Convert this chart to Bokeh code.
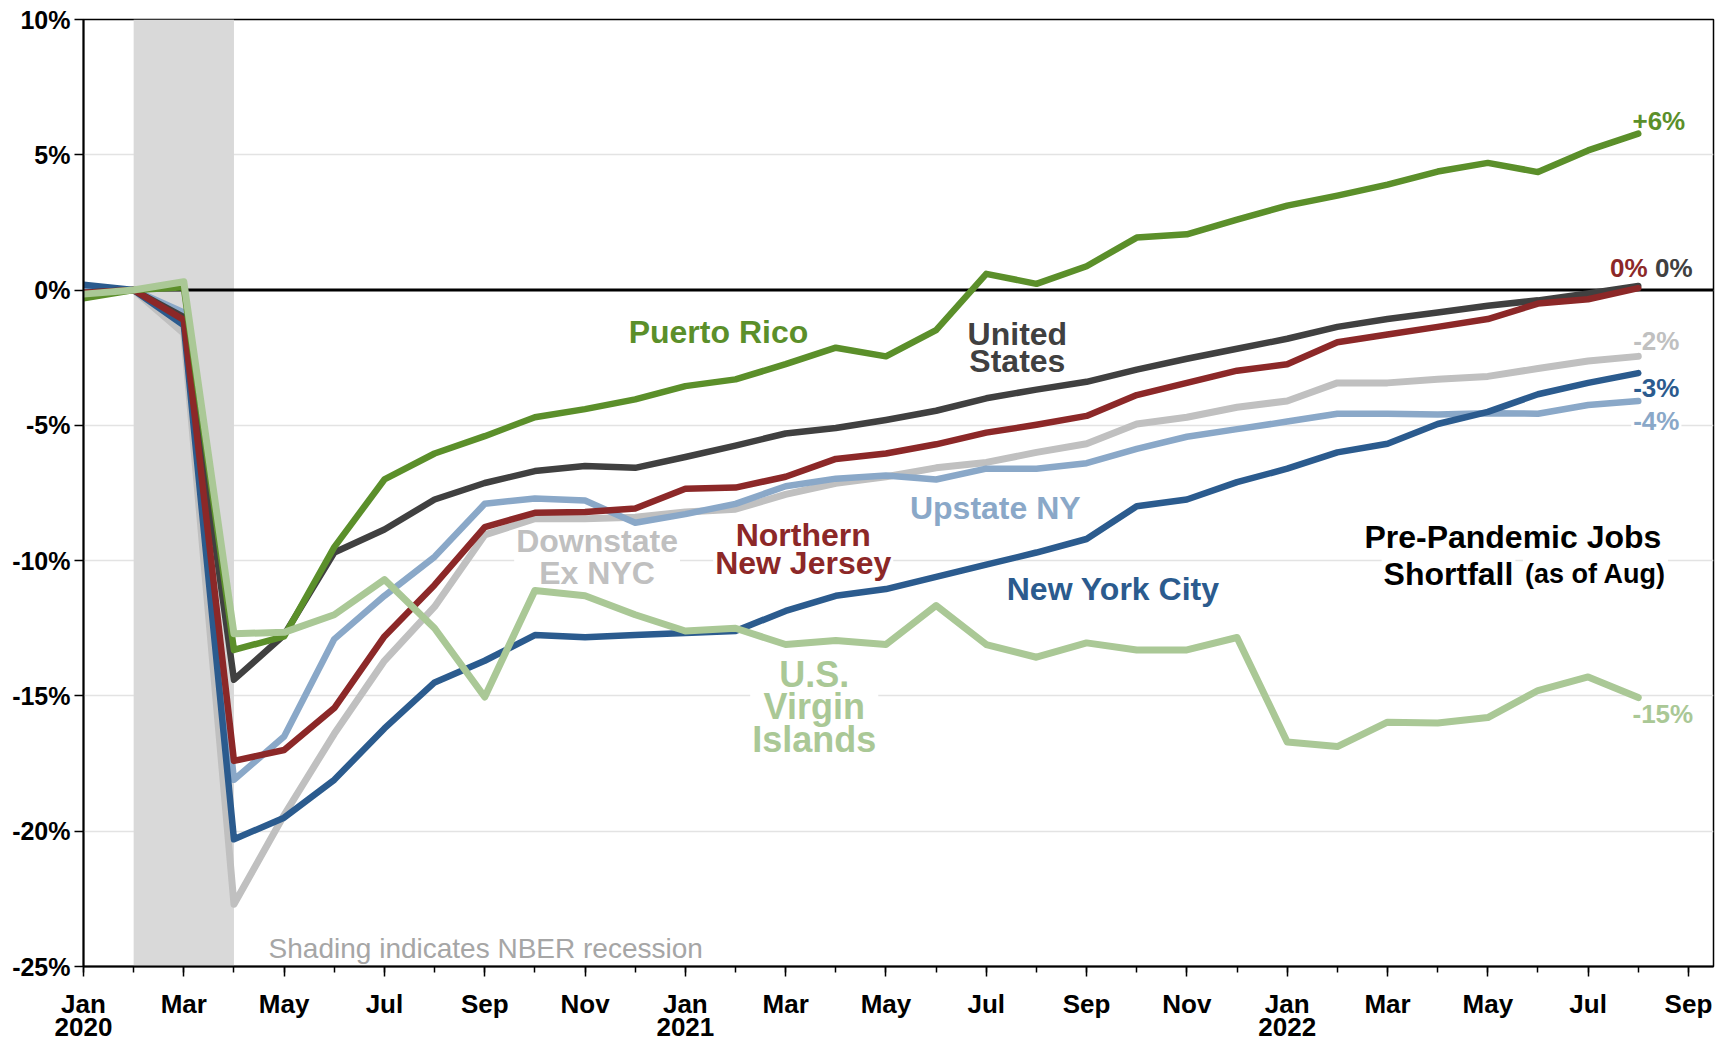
from bokeh.plotting import figure
from bokeh.models import Range1d, FixedTicker, Span, BoxAnnotation, Label, LinearAxis
from bokeh.embed import file_html
from bokeh.resources import INLINE

# ---------------- data (percent change in jobs vs. Feb 2020) ----------------
months = [
    "Jan 2020", "Feb 2020", "Mar 2020", "Apr 2020", "May 2020", "Jun 2020",
    "Jul 2020", "Aug 2020", "Sep 2020", "Oct 2020", "Nov 2020", "Dec 2020",
    "Jan 2021", "Feb 2021", "Mar 2021", "Apr 2021", "May 2021", "Jun 2021",
    "Jul 2021", "Aug 2021", "Sep 2021", "Oct 2021", "Nov 2021", "Dec 2021",
    "Jan 2022", "Feb 2022", "Mar 2022", "Apr 2022", "May 2022", "Jun 2022",
    "Jul 2022", "Aug 2022",
]

puerto_rico = [-0.3, 0.0, 0.1, -13.3, -12.8, -9.5, -7.0, -6.04, -5.4, -4.7, -4.4, -4.04,
               -3.55, -3.3, -2.74, -2.13, -2.45, -1.48, 0.6, 0.23, 0.88, 1.94, 2.06, 2.6,
               3.12, 3.49, 3.9, 4.38, 4.7, 4.36, 5.16, 5.78]
united_states = [-0.1, 0.0, -1.0, -14.4, -12.75, -9.7, -8.85, -7.74, -7.13, -6.69, -6.5, -6.57,
                 -6.17, -5.75, -5.3, -5.1, -4.8, -4.46, -4.0, -3.68, -3.39, -2.94, -2.54, -2.17,
                 -1.8, -1.36, -1.07, -0.83, -0.58, -0.38, -0.13, 0.15]
northern_nj = [-0.1, 0.0, -1.1, -17.4, -17.0, -15.45, -12.8, -10.9, -8.76, -8.23, -8.2, -8.07,
               -7.34, -7.3, -6.9, -6.24, -6.04, -5.7, -5.27, -4.98, -4.65, -3.88, -3.43, -2.98,
               -2.74, -1.93, -1.64, -1.36, -1.07, -0.5, -0.34, 0.07]
upstate_ny = [0.0, 0.0, -0.83, -18.1, -16.5, -12.9, -11.3, -9.86, -7.9, -7.7, -7.78, -8.6,
              -8.28, -7.9, -7.25, -6.97, -6.85, -7.0, -6.6, -6.6, -6.4, -5.87, -5.42, -5.14,
              -4.86, -4.57, -4.57, -4.6, -4.55, -4.57, -4.25, -4.1]
downstate_ex_nyc = [-0.1, 0.0, -1.6, -22.7, -19.4, -16.4, -13.7, -11.7, -9.05, -8.45, -8.45, -8.4,
                    -8.2, -8.1, -7.55, -7.14, -6.9, -6.57, -6.37, -6.0, -5.68, -4.95, -4.7, -4.33,
                    -4.1, -3.43, -3.43, -3.3, -3.19, -2.9, -2.62, -2.45]
new_york_city = [0.2, 0.0, -1.3, -20.3, -19.5, -18.1, -16.2, -14.5, -13.7, -12.75, -12.83, -12.75,
                 -12.67, -12.6, -11.86, -11.3, -11.05, -10.6, -10.15, -9.7, -9.2, -7.99, -7.74, -7.1,
                 -6.6, -6.0, -5.68, -4.95, -4.5, -3.85, -3.43, -3.07]
us_virgin_islands = [-0.15, 0.0, 0.31, -12.7, -12.65, -12.0, -10.7, -12.5, -15.04, -11.1, -11.3, -12.0,
                     -12.6, -12.5, -13.1, -12.95, -13.1, -11.66, -13.1, -13.57, -13.04, -13.3, -13.3, -12.84,
                     -16.7, -16.87, -15.97, -16.0, -15.8, -14.8, -14.3, -15.06]

end_labels = ["+6%", "0%", "0%", "-2%", "-3%", "-4%", "-15%"]

tick_months = [0, 2, 4, 6, 8, 10, 12, 14, 16, 18, 20, 22, 24, 26, 28, 30, 32]
tick_labels = ["Jan", "Mar", "May", "Jul", "Sep", "Nov",
               "Jan", "Mar", "May", "Jul", "Sep", "Nov",
               "Jan", "Mar", "May", "Jul", "Sep"]
year_months = [0, 12, 24]
year_labels = ["2020", "2021", "2022"]
minor_months = list(range(0, 33))
y_ticks = [-25, -20, -15, -10, -5, 0, 5, 10]
y_tick_labels = ["-25%", "-20%", "-15%", "-10%", "-5%", "0%", "5%", "10%"]

recession_start = 1   # Feb 2020
recession_end = 3     # Apr 2020

x = list(range(len(months)))

# ---------------- colours ----------------
C_PR = "#5B8F2A"
C_US = "#404040"
C_NJ = "#8C2828"
C_UP = "#8AA8C8"
C_DS = "#C0C0C0"
C_NYC = "#2B5B8E"
C_VI = "#AAC896"

FONT = "Liberation Sans"

p = figure(width=1724, height=1040,
           x_range=Range1d(0, 32.5), y_range=Range1d(-25, 10),
           output_backend="svg", toolbar_location=None,
           min_border_left=83, min_border_right=11,
           min_border_top=19, min_border_bottom=74)
p.background_fill_color = "white"
p.border_fill_color = "white"
p.outline_line_color = "black"
p.outline_line_width = 1.5

# x axis (months)
p.xaxis.ticker = FixedTicker(ticks=tick_months, minor_ticks=minor_months)
p.xaxis.major_label_overrides = dict(zip(tick_months, tick_labels))
p.xaxis.axis_line_width = 2
p.xaxis.axis_line_color = "black"
p.xaxis.major_tick_out = 10
p.xaxis.major_tick_in = 0
p.xaxis.minor_tick_out = 6
p.xaxis.minor_tick_in = 0
p.xaxis.major_tick_line_width = 1.5
p.xaxis.minor_tick_line_width = 1.5
p.xaxis.major_tick_line_color = "black"
p.xaxis.minor_tick_line_color = "black"
p.xaxis.major_label_text_font = FONT
p.xaxis.major_label_text_font_style = "bold"
p.xaxis.major_label_text_font_size = "26px"
p.xaxis.major_label_text_color = "black"
p.xaxis.major_label_standoff = 12

# second x axis (years under January)
year_axis = LinearAxis(ticker=FixedTicker(ticks=year_months, minor_ticks=[]),
                       major_label_overrides=dict(zip(year_months, year_labels)))
year_axis.axis_line_color = None
year_axis.major_tick_line_color = None
year_axis.minor_tick_line_color = None
year_axis.major_tick_out = 0
year_axis.major_tick_in = 0
year_axis.minor_tick_out = 0
year_axis.minor_tick_in = 0
year_axis.major_label_text_font = FONT
year_axis.major_label_text_font_style = "bold"
year_axis.major_label_text_font_size = "26px"
year_axis.major_label_text_color = "black"
year_axis.major_label_standoff = -4
p.add_layout(year_axis, "below")

# y axis
p.yaxis.ticker = FixedTicker(ticks=y_ticks, minor_ticks=[])
p.yaxis.major_label_overrides = dict(zip(y_ticks, y_tick_labels))
p.yaxis.axis_line_width = 2
p.yaxis.axis_line_color = "black"
p.yaxis.major_tick_out = 9
p.yaxis.major_tick_in = 0
p.yaxis.major_tick_line_width = 1.5
p.yaxis.major_tick_line_color = "black"
p.yaxis.minor_tick_line_color = None
p.yaxis.major_label_text_font = FONT
p.yaxis.major_label_text_font_style = "bold"
p.yaxis.major_label_text_font_size = "25px"
p.yaxis.major_label_text_color = "black"
p.yaxis.major_label_standoff = 4

# grid
p.xgrid.visible = False
p.ygrid.ticker = FixedTicker(ticks=y_ticks)
p.ygrid.grid_line_color = "#E3E3E3"
p.ygrid.grid_line_width = 1.5

# recession shading and zero line
p.add_layout(BoxAnnotation(left=recession_start, right=recession_end,
                           fill_color="#D9D9D9", fill_alpha=1.0,
                           line_color=None, level="underlay"))
p.add_layout(Span(location=0, dimension="width", line_color="black",
                  line_width=3, level="underlay"))

# series (bottom to top)
series = [
    (downstate_ex_nyc, C_DS, 7),
    (upstate_ny, C_UP, 6.5),
    (new_york_city, C_NYC, 6.5),
    (united_states, C_US, 6.5),
    (northern_nj, C_NJ, 6.5),
    (puerto_rico, C_PR, 6.5),
    (us_virgin_islands, C_VI, 7),
]
for vals, col, lw in series:
    p.line(x, vals, line_color=col, line_width=lw,
           line_cap="round", line_join="round")


def add_label(text, xx, yy, color, size="32px", style="bold", align="center",
              baseline="middle", lh=0.95, bg=True):
    lab = Label(x=xx, y=yy, text=text, text_color=color,
                text_font=FONT, text_font_size=size, text_font_style=style,
                text_align=align, text_baseline=baseline,
                text_line_height=lh, level="underlay")
    if bg:
        lab.background_fill_color = "white"
        lab.background_fill_alpha = 1.0
        lab.padding = 2
    p.add_layout(lab)


# series names
add_label("Puerto Rico", 12.66, -1.56, C_PR)
add_label("United\nStates", 18.62, -2.12, C_US, lh=0.77)
add_label("Downstate\nEx NYC", 10.24, -9.86, C_DS, lh=0.9)
add_label("Northern\nNew Jersey", 14.35, -9.58, C_NJ, lh=0.77)
add_label("Upstate NY", 18.18, -8.07, C_UP)
add_label("New York City", 20.53, -11.04, C_NYC)
add_label("U.S.\nVirgin\nIslands", 14.57, -15.4, C_VI, size="36px", lh=0.79)

# end-of-series values
add_label(end_labels[0], 31.41, 6.25, C_PR, size="26px")
add_label(end_labels[1], 30.81, 0.8, C_NJ, size="26px")
add_label(end_labels[2], 31.71, 0.8, C_US, size="26px")
add_label(end_labels[3], 31.36, -1.88, C_DS, size="26px")
add_label(end_labels[4], 31.36, -3.63, C_NYC, size="26px")
add_label(end_labels[5], 31.36, -4.83, C_UP, size="26px")
add_label(end_labels[6], 31.49, -15.68, C_VI, size="26px")

# chart title block
add_label("Pre-Pandemic Jobs", 28.5, -9.13, "black", size="32px")
add_label("Shortfall", 28.55, -10.48, "black", size="32px", align="right",
          baseline="alphabetic")
add_label("(as of Aug)", 28.7, -10.48, "black", size="27px", align="left",
          baseline="alphabetic")

# note
add_label("Shading indicates NBER recession", 8.02, -24.35, "#A6A6A6",
          size="28px", style="normal", bg=False)

open("out.html", "w").write(file_html(p, INLINE))
